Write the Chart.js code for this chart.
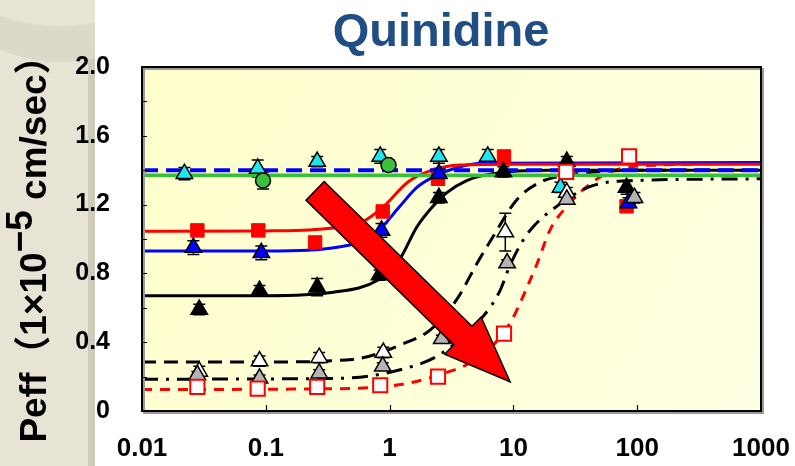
<!DOCTYPE html>
<html>
<head>
<meta charset="utf-8">
<script src="https://cdn.jsdelivr.net/npm/chart.js@4.4.1/dist/chart.umd.min.js"></script>
<style>
  html, body { margin: 0; padding: 0; background: #fff; }
</style>
</head>
<body>
<canvas id="peffChart" width="795" height="466"></canvas>
<script>
// x ticks (log scale, concentration) and y ticks
const xTicks = [0.01, 0.1, 1, 10, 100, 1000];
const yLabels = [0, 0.4, 0.8, 1.2, 1.6, 2.0];

// measured points (x, Peff, error)
const cyanX = [0.022, 0.086, 0.26, 0.84, 2.5, 6.2, 24];
const cyanY = [1.38, 1.41, 1.45, 1.48, 1.48, 1.48, 1.30];
const cyanErr = [0.035, 0.05, 0.03, 0.04, 0.04, 0.04, 0.03];

const greenX = [0.095, 0.98];
const greenY = [1.34, 1.43];
const greenErr = [0.05, 0.03];

const redX = [0.028, 0.087, 0.25, 0.88, 2.46, 8.4, 82];
const redY = [1.05, 1.05, 0.98, 1.16, 1.35, 1.48, 1.19];
const redErr = [0.02, 0.02, 0.02, 0.02, 0.02, 0.02, 0.02];

const blueX = [0.026, 0.092, 0.86, 2.5, 85];
const blueY = [0.95, 0.92, 1.05, 1.38, 1.21];
const blueErr = [0.04, 0.04, 0.04, 0.03, 0.03];

const blackX = [0.029, 0.089, 0.26, 0.83, 2.5, 8.3, 27, 82];
const blackY = [0.59, 0.70, 0.72, 0.79, 1.24, 1.39, 1.45, 1.30];
const blackErr = [0.03, 0.03, 0.05, 0.03, 0.03, 0.03, 0.03, 0.04];

const whiteX = [0.029, 0.089, 0.27, 0.89, 8.6, 27];
const whiteY = [0.23, 0.29, 0.31, 0.34, 1.04, 1.27];
const whiteErr = [0.03, 0.03, 0.03, 0.03, 0.11, 0.03];

const grayX = [0.028, 0.089, 0.27, 0.88, 2.64, 8.9, 27, 95];
const grayY = [0.21, 0.19, 0.22, 0.26, 0.42, 0.86, 1.23, 1.24];
const grayErr = [0.02, 0.02, 0.02, 0.02, 0.02, 0.02, 0.02, 0.03];

const openX = [0.028, 0.086, 0.26, 0.84, 2.46, 8.4, 26.7, 86];
const openY = [0.14, 0.13, 0.14, 0.15, 0.20, 0.45, 1.39, 1.48];
const openErr = [0.01, 0.01, 0.01, 0.01, 0.01, 0.01, 0.02, 0.02];

// fitted curves
const blueDashX = [0.01, 1000];
const blueDashY = [1.40, 1.40];
const greenLineX = [0.01, 1000];
const greenLineY = [1.37, 1.37];

const redCurveX = [0.01, 0.1, 0.3, 0.6, 0.9, 1.4, 2.2, 3.7, 10, 1000];
const redCurveY = [1.045, 1.047, 1.06, 1.10, 1.19, 1.33, 1.40, 1.43, 1.435, 1.435];

const blueCurveX = [0.01, 0.1, 0.48, 0.79, 1.21, 1.66, 2.24, 3.7, 5.7, 1000];
const blueCurveY = [0.93, 0.93, 0.965, 1.04, 1.19, 1.30, 1.36, 1.42, 1.44, 1.445];

const blackCurveX = [0.01, 0.1, 0.35, 0.8, 1.2, 1.66, 2.24, 2.9, 4.2, 6.8, 20, 1000];
const blackCurveY = [0.67, 0.67, 0.69, 0.76, 0.88, 1.07, 1.19, 1.27, 1.34, 1.38, 1.40, 1.40];

const dashCurveX = [0.01, 0.1, 0.5, 1.38, 2.12, 3.5, 5.1, 6.8, 10.7, 16.4, 22.4, 100, 1000];
const dashCurveY = [0.285, 0.285, 0.30, 0.40, 0.47, 0.65, 0.86, 1.01, 1.23, 1.33, 1.36, 1.40, 1.40];

const dotCurveX = [0.01, 0.4, 1.38, 2.56, 5.7, 7.8, 9.3, 11.9, 14.4, 19.7, 43.7, 100, 1000];
const dotCurveY = [0.185, 0.19, 0.25, 0.33, 0.55, 0.70, 0.84, 0.99, 1.07, 1.16, 1.31, 1.34, 1.35];

const redDashX = [0.01, 0.4, 1.38, 3.05, 4.2, 6, 8, 9.9, 12.9, 15.6, 19.7, 27, 40, 60, 150, 1000];
const redDashY = [0.125, 0.13, 0.16, 0.23, 0.27, 0.34, 0.44, 0.54, 0.72, 0.86, 1.05, 1.19, 1.31, 1.39, 1.43, 1.44];

// arrow, in data coordinates
const arrowFrom = [0.25, 1.28];
const arrowTo = [9.4, 0.17];

const pts = (xs, ys) => xs.map((x, i) => ({ x: x, y: ys[i] }));

function curve(xs, ys, color, dash, width) {
  return {
    data: pts(xs, ys), showLine: true, borderColor: color, borderWidth: width || 3,
    borderDash: dash || [], pointRadius: 0, pointHoverRadius: 0,
    cubicInterpolationMode: 'monotone', fill: false, order: 5
  };
}
function marks(xs, ys, err, style, fill, stroke, r, bw) {
  return {
    data: pts(xs, ys), err: err, showLine: false, pointStyle: style,
    pointRadius: r, pointHoverRadius: r, backgroundColor: fill,
    borderColor: stroke, pointBorderWidth: bw, borderWidth: bw, order: 1
  };
}

const ctx = document.getElementById('peffChart');

const decor = {
  id: 'decor',
  beforeDraw(chart) {
    const c = chart.ctx, a = chart.chartArea;
    c.save();
    c.fillStyle = '#ffffff';
    c.fillRect(0, 0, chart.width, chart.height);
    // textured strip on the left
    c.fillStyle = '#e8e4d5';
    c.fillRect(0, 0, 88, chart.height);
    c.fillStyle = '#cfcbbb';
    c.fillRect(88, 0, 7, chart.height);
    c.beginPath();
    c.rect(0, 0, 95, chart.height);
    c.clip();
    c.fillStyle = '#dcd8ca';
    c.beginPath();
    c.ellipse(60, -70, 140, 132, 0, 0, Math.PI * 2);
    c.fill();
    c.fillStyle = '#e8e4d5';
    c.beginPath();
    c.ellipse(60, -70, 132, 96, 0, 0, Math.PI * 2);
    c.fill();
    c.restore();
    // plot background
    c.save();
    const g = c.createLinearGradient(a.left, a.top, a.right, a.bottom);
    g.addColorStop(0, '#ffffcc');
    g.addColorStop(1, '#ffffe4');
    c.fillStyle = g;
    c.fillRect(a.left, a.top, a.right - a.left, a.bottom - a.top);
    c.restore();
  },
  beforeDatasetsDraw(chart) {
    const c = chart.ctx, xs = chart.scales.x, ys = chart.scales.y;
    c.save();
    c.strokeStyle = '#000';
    c.lineWidth = 1.5;
    chart.data.datasets.forEach(ds => {
      if (!ds.err) return;
      ds.data.forEach((p, i) => {
        const e = ds.err[i];
        const px = xs.getPixelForValue(p.x);
        const y1 = ys.getPixelForValue(p.y + e), y0 = ys.getPixelForValue(p.y - e);
        c.beginPath();
        c.moveTo(px, y0); c.lineTo(px, y1);
        c.moveTo(px - 6, y1); c.lineTo(px + 6, y1);
        c.moveTo(px - 6, y0); c.lineTo(px + 6, y0);
        c.stroke();
      });
    });
    c.restore();
  },
  afterDatasetsDraw(chart) {
    const c = chart.ctx, a = chart.chartArea, xs = chart.scales.x, ys = chart.scales.y;
    // big red arrow
    const x0 = xs.getPixelForValue(arrowFrom[0]), y0 = ys.getPixelForValue(arrowFrom[1]);
    const x1 = xs.getPixelForValue(arrowTo[0]), y1 = ys.getPixelForValue(arrowTo[1]);
    const len = Math.hypot(x1 - x0, y1 - y0);
    const ux = (x1 - x0) / len, uy = (y1 - y0) / len, nx = -uy, ny = ux;
    const sw = 13, hw = 26, hl = 66;
    const bx = x1 - ux * hl, by = y1 - uy * hl;
    c.save();
    c.beginPath();
    c.moveTo(x0 + nx * sw, y0 + ny * sw);
    c.lineTo(bx + nx * sw, by + ny * sw);
    c.lineTo(bx + nx * hw, by + ny * hw);
    c.lineTo(x1, y1);
    c.lineTo(bx - nx * hw, by - ny * hw);
    c.lineTo(bx - nx * sw, by - ny * sw);
    c.lineTo(x0 - nx * sw, y0 - ny * sw);
    c.closePath();
    c.fillStyle = '#ff0000';
    c.fill();
    c.strokeStyle = '#000';
    c.lineWidth = 1.5;
    c.stroke();
    c.restore();

    // frame with shadow, inner ticks
    c.save();
    c.strokeStyle = '#9a9a9a';
    c.lineWidth = 2;
    c.strokeRect(a.left + 2, a.top + 2, a.right - a.left, a.bottom - a.top);
    c.strokeStyle = '#000';
    c.lineWidth = 2;
    c.strokeRect(a.left, a.top, a.right - a.left, a.bottom - a.top);
    c.lineWidth = 1.2;
    c.beginPath();
    for (let v = 0.2; v < 2.0; v += 0.2) {
      const py = Math.round(ys.getPixelForValue(v)) + 0.5;
      c.moveTo(a.left, py); c.lineTo(a.left + 5, py);
    }
    xTicks.slice(1, -1).forEach(v => {
      const px = Math.round(xs.getPixelForValue(v)) + 0.5;
      c.moveTo(px, a.bottom); c.lineTo(px, a.bottom - 6);
    });
    c.stroke();
    c.restore();

    // title
    c.save();
    c.fillStyle = '#1f4e85';
    c.font = 'bold 47px "Liberation Sans", Arial, sans-serif';
    c.textAlign = 'center';
    c.textBaseline = 'alphabetic';
    c.fillText('Quinidine', 441, 46);
    c.restore();

    // y-axis title, rotated
    c.save();
    const f1 = 'bold 37px "Liberation Sans", "Noto Sans CJK JP", sans-serif';
    const p1 = 'Peff（1×10', sup = '−5', p2 = ' cm/sec）';
    c.font = f1;
    const w1 = c.measureText(p1).width, w2 = c.measureText(p2).width;
    const ws = c.measureText(sup).width;
    const total = w1 + ws + w2;
    c.translate(46, 240);
    c.rotate(-Math.PI / 2);
    c.fillStyle = '#000';
    c.textBaseline = 'alphabetic';
    let pos = -total / 2;
    c.fillText(p1, pos, 0); pos += w1;
    c.fillText(sup, pos, -14); pos += ws;
    c.fillText(p2, pos, 0);
    c.restore();
  }
};

new Chart(ctx, {
  type: 'scatter',
  data: {
    datasets: [
      curve(blueDashX, blueDashY, '#0000ff', [16, 8], 4),
      curve(greenLineX, greenLineY, '#33c233', [], 3.5),
      curve(redCurveX, redCurveY, '#ff0000', [], 3),
      curve(blueCurveX, blueCurveY, '#0000ff', [], 3),
      curve(blackCurveX, blackCurveY, '#000000', [], 3),
      curve(dashCurveX, dashCurveY, '#000000', [14, 8], 3),
      curve(dotCurveX, dotCurveY, '#000000', [16, 8, 3, 8], 3),
      curve(redDashX, redDashY, '#ff0000', [10, 8], 3),
      marks(openX, openY, openErr, 'rect', '#ffffff', '#ff0000', 10, 2),
      marks(grayX, grayY, grayErr, 'triangle', '#b4b4b4', '#000000', 9.5, 1.5),
      marks(whiteX, whiteY, whiteErr, 'triangle', '#ffffff', '#000000', 9.5, 1.5),
      marks(blackX, blackY, blackErr, 'triangle', '#000000', '#000000', 9.5, 1.5),
      marks(blueX, blueY, blueErr, 'triangle', '#0000ff', '#000000', 9.5, 1.5),
      marks(redX, redY, redErr, 'rect', '#ff0000', '#ff0000', 9.5, 1),
      marks(greenX, greenY, greenErr, 'circle', '#3cbf3c', '#000000', 7.5, 1.5),
      marks(cyanX, cyanY, cyanErr, 'triangle', '#1ee6f0', '#000000', 9.5, 1.5)
    ]
  },
  options: {
    responsive: false,
    animation: false,
    devicePixelRatio: 1,
    layout: { padding: { left: 0, right: 34, top: 67, bottom: 0 } },
    plugins: { legend: { display: false }, tooltip: { enabled: false } },
    scales: {
      x: {
        type: 'logarithmic', min: 0.01, max: 1000,
        afterBuildTicks: s => { s.ticks = xTicks.map(v => ({ value: v })); },
        afterFit: s => { s.height = 55; s.paddingLeft = 0; s.paddingRight = 0; },
        grid: { display: false, drawTicks: false },
        border: { display: false },
        ticks: {
          padding: 22, color: '#000', maxRotation: 0,
          font: { family: '"Liberation Sans", Arial, sans-serif', size: 26, weight: 'bold' },
          callback: v => String(v)
        }
      },
      y: {
        min: 0, max: 2.0,
        afterBuildTicks: s => { s.ticks = yLabels.map(v => ({ value: v })); },
        afterFit: s => { s.width = 142; s.paddingTop = 0; s.paddingBottom = 0; },
        grid: { display: false, drawTicks: false },
        border: { display: false },
        ticks: {
          padding: 32, color: '#000',
          font: { family: '"Liberation Sans", Arial, sans-serif', size: 25, weight: 'bold' },
          callback: v => (v === 0 ? '0' : v.toFixed(1))
        }
      }
    }
  },
  plugins: [decor]
});
</script>
</body>
</html>
